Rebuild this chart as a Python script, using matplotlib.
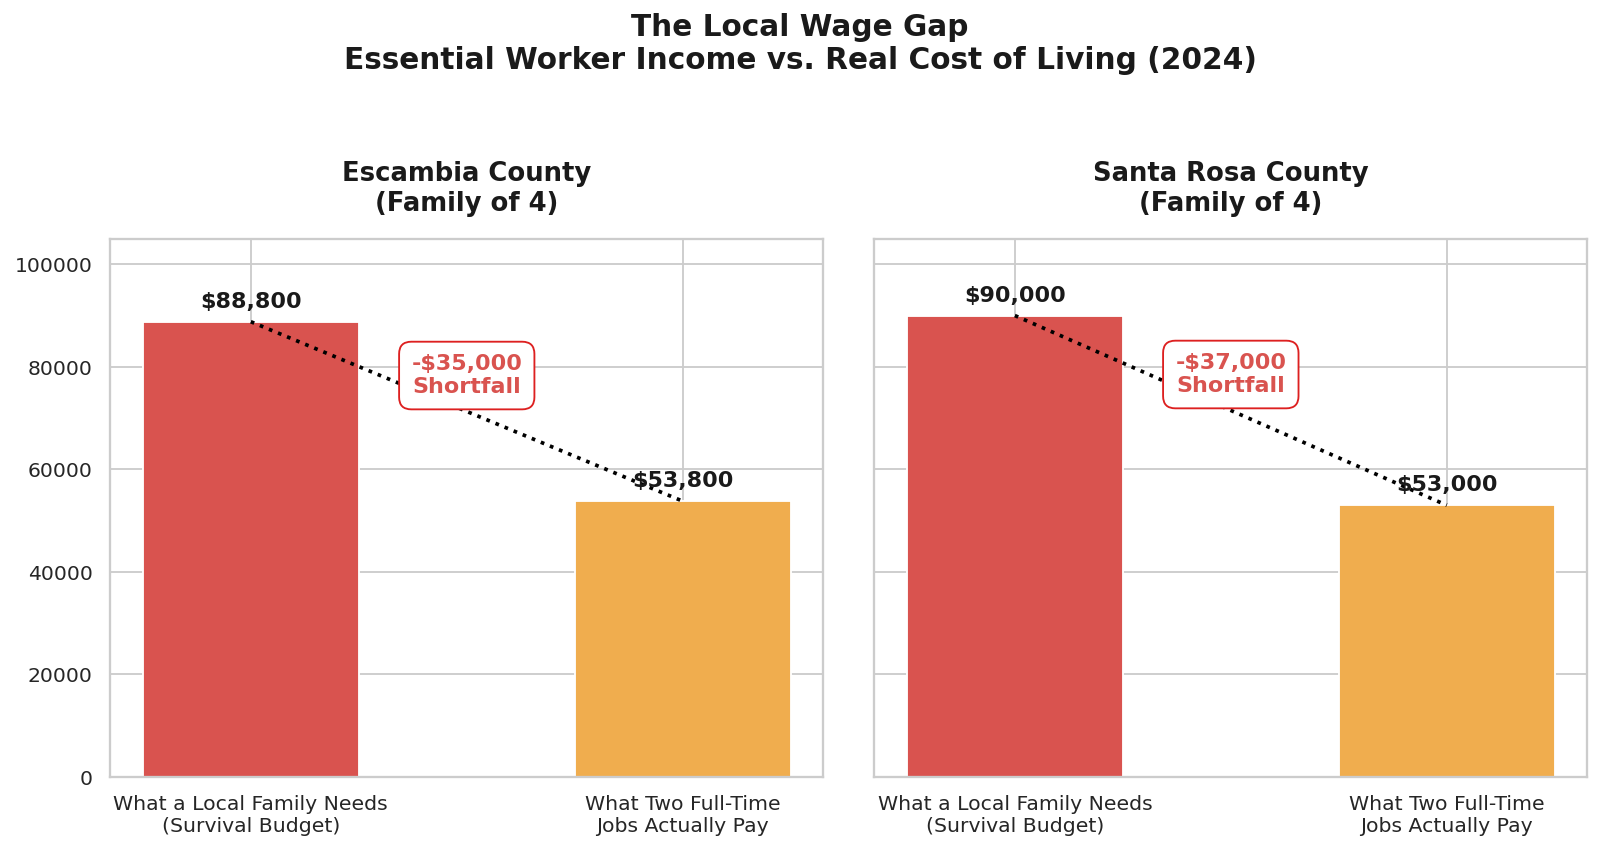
import matplotlib
matplotlib.use("Agg")
import matplotlib.pyplot as plt
import seaborn as sns

sns.set_theme(style="whitegrid")
plt.rcParams['font.family'] = ['DejaVu Sans']

counties = ["Escambia County\n(Family of 4)", "Santa Rosa County\n(Family of 4)"]
categories = ["What a Local Family Needs\n(Survival Budget)", "What Two Full-Time\nJobs Actually Pay"]
needs = [88800, 90000]
pays = [53800, 53000]
bar_colors = ["#d9534f", "#f0ad4e"]

fig, axes = plt.subplots(1, 2, figsize=(12, 6.4), dpi=133.33, sharey=True)
fig.subplots_adjust(left=0.069, right=0.992, top=0.72, bottom=0.089, wspace=0.072)

for ax, county, need, pay in zip(axes, counties, needs, pays):
    vals = [need, pay]
    x = list(range(len(categories)))
    ax.bar(x, vals, width=0.5, color=bar_colors, zorder=2)
    ax.plot(x, vals, color="black", linestyle=":", linewidth=2, zorder=3)
    for xi, v in zip(x, vals):
        ax.text(xi, v + 2000, f"${v:,.0f}", ha="center", va="bottom",
                fontsize=12, fontweight="bold", color="#1a1a1a", zorder=4)
    gap = need - pay
    ax.text(0.5, (need + pay) / 2 + 7000, f"-${gap:,.0f}\nShortfall",
            ha="center", va="center", fontsize=12, fontweight="bold",
            color="#d9534f", zorder=5,
            bbox=dict(boxstyle="round,pad=0.55", facecolor="white",
                      edgecolor="#dd2020", linewidth=1))
    ax.set_title(county, fontsize=14, fontweight="bold", pad=15, color="#1a1a1a")
    ax.set_xticks(x)
    ax.set_xticklabels(categories, fontsize=11)
    ax.tick_params(axis="y", labelsize=11)
    ax.set_ylim(0, 105000)
    for s in ax.spines.values():
        s.set_color("#cccccc")
        s.set_linewidth(1.25)

fig.suptitle("The Local Wage Gap\nEssential Worker Income vs. Real Cost of Living (2024)",
             fontsize=16, fontweight="bold", y=0.985, va="top", color="#1a1a1a")

fig.savefig("out.png", dpi=133.33)
